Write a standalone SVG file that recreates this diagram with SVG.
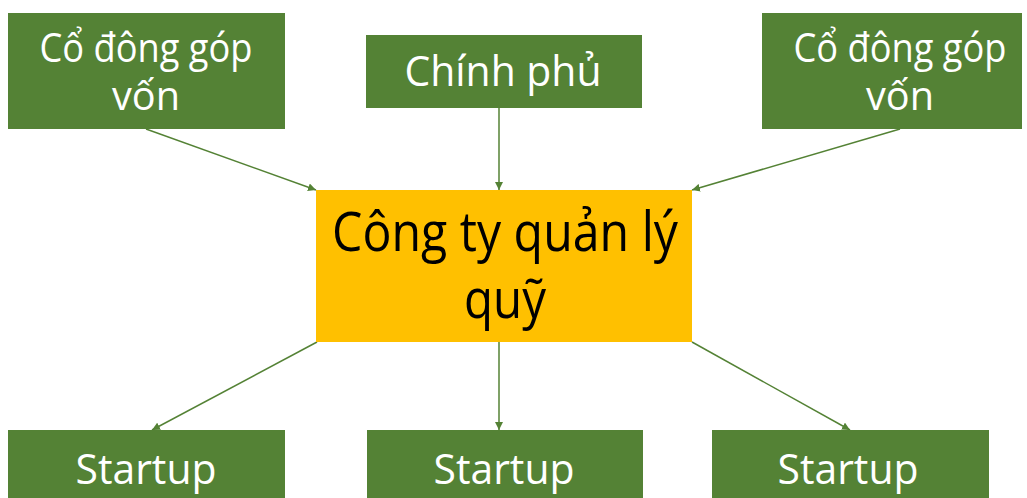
<svg xmlns="http://www.w3.org/2000/svg" width="1027" height="498" viewBox="0 0 1027 498">
<style>
.g{fill:#548235}
.o{fill:#FFC000}
.t{font-family:"Open Sans","Liberation Sans",sans-serif;fill:#fff;text-anchor:middle}
.tc{font-family:"Open Sans","Liberation Sans",sans-serif;fill:#000;text-anchor:middle}
.c{stroke:#548235;stroke-width:1.5;fill:none;marker-end:url(#ah)}
</style>
<defs>
<marker id="ah" viewBox="0 0 10 10" refX="10" refY="5" markerWidth="8" markerHeight="8" markerUnits="userSpaceOnUse" orient="auto">
<path d="M0,0 L10,5 L0,10 z" fill="#548235"/>
</marker>
</defs>
<rect width="1027" height="498" fill="#fff"/>
<g id="connectors">
<line class="c" x1="146" y1="129" x2="316" y2="190"/>
<line class="c" x1="499" y1="108" x2="499" y2="190"/>
<line class="c" x1="900" y1="129" x2="692" y2="190"/>
<line class="c" x1="317" y1="342" x2="152" y2="430"/>
<line class="c" x1="499" y1="342" x2="499" y2="430"/>
<line class="c" x1="692" y1="342" x2="850" y2="430"/>
</g>
<g id="co-dong-1">
<rect class="g" x="8" y="13" width="277" height="116"/>
<text class="t" font-size="40"><tspan x="146" y="62" textLength="213" lengthAdjust="spacingAndGlyphs">Cổ đông góp</tspan><tspan x="146" y="110" textLength="68" lengthAdjust="spacingAndGlyphs">vốn</tspan></text>
</g>
<g id="chinh-phu">
<rect class="g" x="366" y="35" width="276" height="73"/>
<text class="t" font-size="42" x="503" y="86" textLength="197" lengthAdjust="spacingAndGlyphs">Chính phủ</text>
</g>
<g id="co-dong-2">
<rect class="g" x="762" y="13" width="260" height="116"/>
<text class="t" font-size="40"><tspan x="900" y="62" textLength="213" lengthAdjust="spacingAndGlyphs">Cổ đông góp</tspan><tspan x="900" y="110" textLength="68" lengthAdjust="spacingAndGlyphs">vốn</tspan></text>
</g>
<g id="cong-ty">
<rect class="o" x="316" y="190" width="376" height="152"/>
<text class="tc" font-size="55"><tspan x="505" y="251" textLength="346" lengthAdjust="spacingAndGlyphs">Công ty quản lý</tspan><tspan x="505" y="318" textLength="82" lengthAdjust="spacingAndGlyphs">quỹ</tspan></text>
</g>
<g id="startup-1">
<rect class="g" x="8" y="430" width="277" height="68"/>
<text class="t" font-size="42" x="146" y="484" textLength="141" lengthAdjust="spacingAndGlyphs">Startup</text>
</g>
<g id="startup-2">
<rect class="g" x="367" y="430" width="276" height="68"/>
<text class="t" font-size="42" x="504" y="484" textLength="141" lengthAdjust="spacingAndGlyphs">Startup</text>
</g>
<g id="startup-3">
<rect class="g" x="712" y="430" width="277" height="68"/>
<text class="t" font-size="42" x="848" y="484" textLength="141" lengthAdjust="spacingAndGlyphs">Startup</text>
</g>
</svg>
